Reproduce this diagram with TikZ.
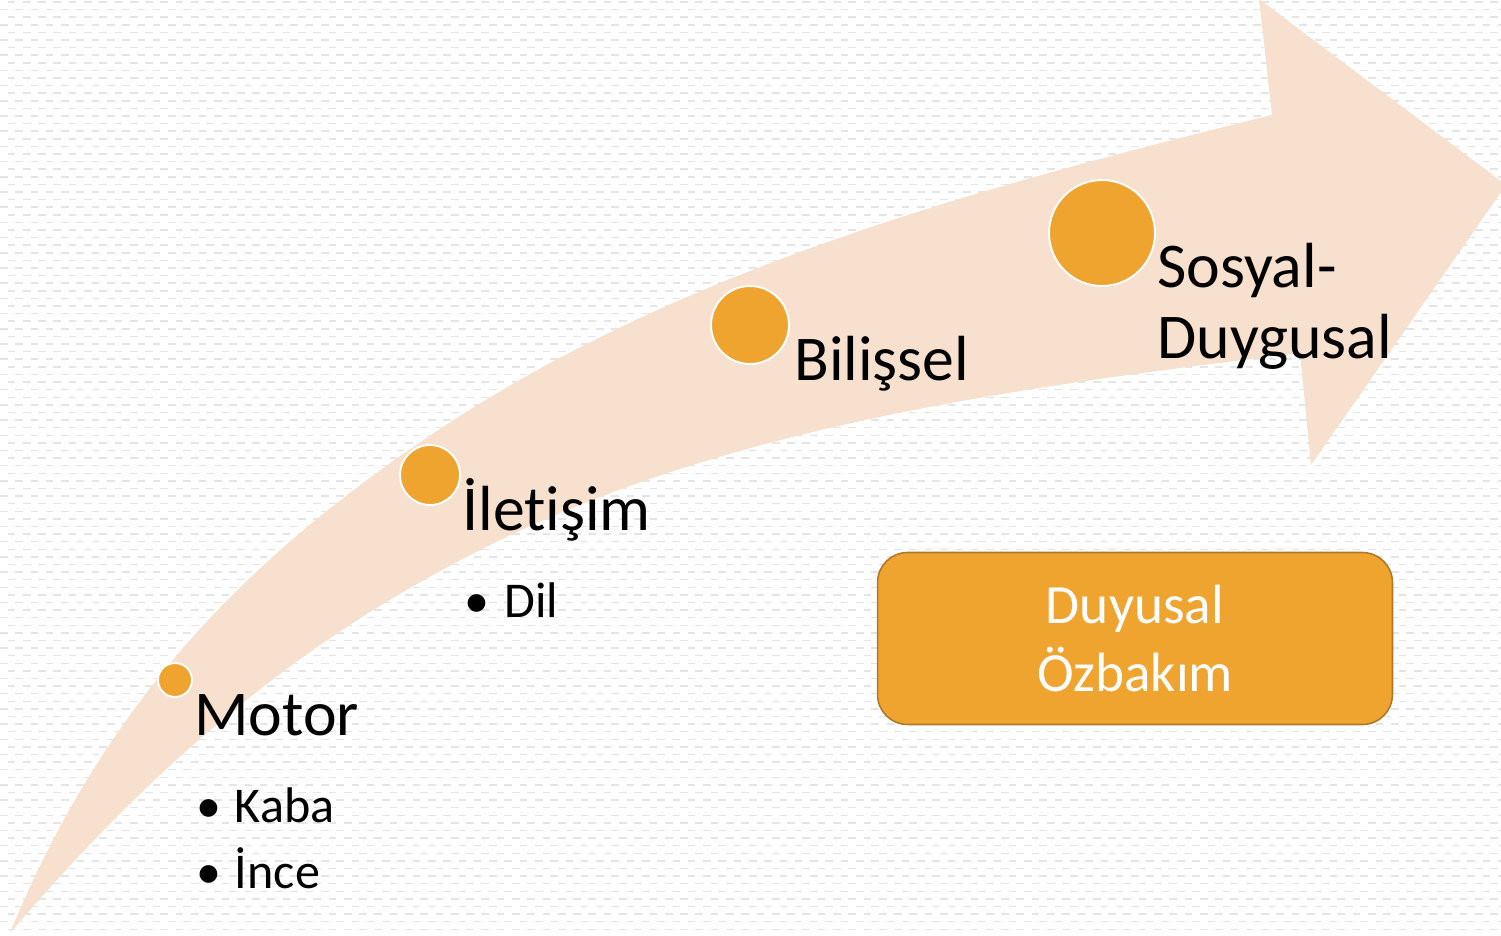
\documentclass[tikz,border=0pt]{standalone}
\usepackage{fontspec}
\setmainfont{Carlito}[Ligatures=NoCommon]
\usetikzlibrary{positioning}
\definecolor{peach}{RGB}{248,224,206}
\definecolor{amber}{RGB}{239,164,48}
\definecolor{amberline}{RGB}{176,120,38}
\definecolor{patgray}{RGB}{229,229,229}

\begin{document}
\begin{tikzpicture}
[x=0.02cm, y=-0.02cm,
dot/.style={circle,fill=amber,draw=white,line width=1.1pt,inner sep=0pt},
head/.style={anchor=base west,inner sep=0pt,font=\fontsize{36.3}{40}\selectfont},
item/.style={anchor=base west,inner sep=0pt,font=\fontsize{28.5}{34}\selectfont},
box/.style={rounded corners=0.6cm,fill=amber,draw=amberline,line width=0.9pt,
  minimum width=10.3cm,minimum height=3.44cm,align=center,text=white,
  font=\fontsize{31.5}{39}\selectfont},
bgdash/.style={draw=patgray,line width=0.8pt,dash pattern=on 4.35pt off 4.35pt}]
\useasboundingbox (0,0) rectangle (1501,936);
\clip (0,0) rectangle (1501,936);
\fill[white] (0,0) rectangle (1501,936);
\foreach \yy in {2,17.2,...,936} \draw[bgdash,dash phase=4.35pt] (0,\yy) -- (1501,\yy);
\foreach \yy in {9.6,24.8,...,936} \draw[bgdash] (0,\yy) -- (1501,\yy);
\fill[peach] (10,933) .. controls (109,692) and (258,549) .. (443,427)
  .. controls (689,265) and (986,186) .. (1272,115)
  -- (1259,-1) -- (1506,185) -- (1311,465) -- (1300,353)
  .. controls (1022,387) and (729,424) .. (480,550)
  .. controls (302,640) and (160,758) .. (10,933) -- cycle;
\node[dot,minimum size=0.68cm] (m) at (175,680) {};
\node[dot,minimum size=1.2cm] (i) at (430,475) {};
\node[dot,minimum size=1.56cm] (b) at (750,325) {};
\node[dot,minimum size=2.12cm] (s) at (1102,233) {};
\node[head] (motor) at (194,735) {Motor};
\node[item] (kaba) at (196,822) {\makebox[22pt][l]{\textbullet}Kaba};
\node[item] (ince) at (196,888) {\makebox[22pt][l]{\textbullet}İnce};
\node[head] (ilet) at (462,530) {İletişim};
\node[item] (dil) at (464,617) {\makebox[23pt][l]{\textbullet}Dil};
\node[head] (bilis) at (794,380) {Bilişsel};
\node[head] (sosyal) at (1157,287) {Sosyal-};
\node[head] (duyg) at (1157,358) {Duygusal};
\node[box] (ozbakim) at (1135,638.5) {Duyusal\\Özbakım};
\end{tikzpicture}
\end{document}
